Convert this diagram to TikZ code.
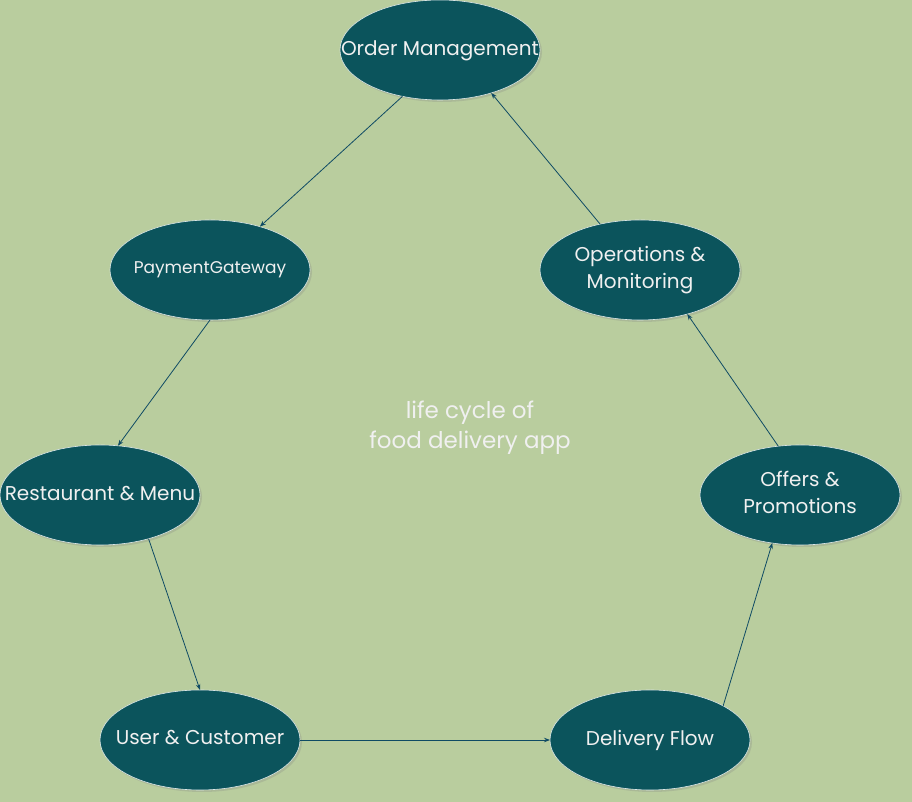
\documentclass[tikz,border=0pt]{standalone}
\usepackage{fontspec}
\setmainfont{Poppins}
\usetikzlibrary{shapes.geometric,arrows.meta,shadows}
\definecolor{bgc}{RGB}{185,205,158}
\definecolor{nodec}{RGB}{11,84,92}
\definecolor{txtc}{RGB}{240,240,240}
\definecolor{edgec}{RGB}{15,75,100}
\newcommand{\zw}[1]{\makebox[0pt][c]{\begin{tabular}{@{}c@{}}#1\end{tabular}}}
\tikzset{
  stage/.style={ellipse, fill=nodec, draw=white!85!nodec, line width=0.6pt,
    minimum width=200pt, minimum height=100pt, inner sep=0pt, outer sep=0pt,
    text=txtc, font=\fontsize{20}{27}\selectfont,
    drop shadow={opacity=0.25, shadow xshift=2pt, shadow yshift=-2pt}},
  flow/.style={draw=edgec, line width=0.8pt, -{Stealth[length=6pt,width=4.5pt]}}
}
\begin{document}
\begin{tikzpicture}[x=1pt,y=1pt]
\fill[bgc] (0,0) rectangle (912,802);
\useasboundingbox (0,0) rectangle (912,802);
\node[stage] (om) at (440,752) {\zw{Order Management}};
\node[stage, font=\fontsize{17}{20}\selectfont] (pg) at (210,532) {\zw{PaymentGateway}};
\node[stage] (ops) at (640,532) {\zw{Operations \&\\Monitoring}};
\node[stage] (rm) at (100,307) {\raisebox{-2pt}{\zw{Restaurant \& Menu}}};
\node[stage] (op) at (800,307) {\zw{Offers \&\\Promotions}};
\node[stage] (uc) at (200,62) {\raisebox{11pt}{\zw{User \& Customer}}};
\node[stage] (df) at (650,62) {\zw{Delivery Flow}};
\node[text=txtc, align=center, font=\fontsize{23}{30}\selectfont] (title) at (470,374) {life cycle of\\food delivery app};
\draw[flow] (om.231) -- (pg.41);
\draw[flow] (pg.270) -- (rm.70);
\draw[flow] (rm.318) -- (uc.90);
\draw[flow] (uc.0) -- (df.180);
\draw[flow] (df.25) -- (op.240);
\draw[flow] (op.114) -- (ops.317);
\draw[flow] (ops.131) -- (om.320);
\end{tikzpicture}
\end{document}
